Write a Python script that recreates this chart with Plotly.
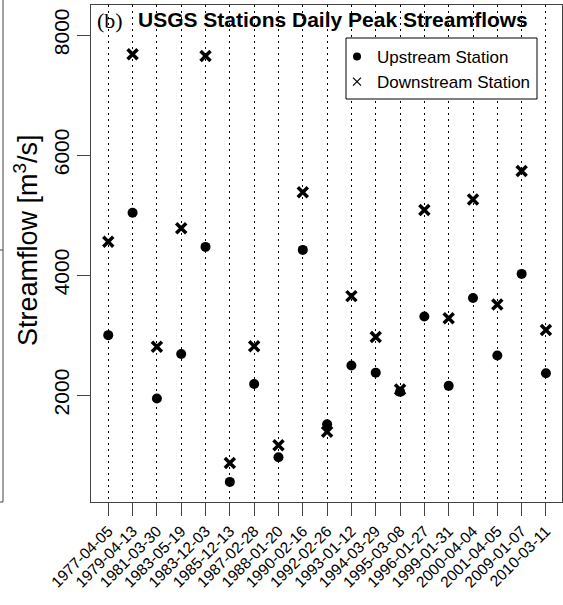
import plotly.graph_objects as go

dates = ["1977-04-05", "1979-04-13", "1981-03-30", "1983-05-19", "1983-12-03",
         "1985-12-13", "1987-02-28", "1988-01-20", "1990-02-16", "1992-02-26",
         "1993-01-12", "1994-03-29", "1995-03-08", "1996-01-27", "1999-01-31",
         "2000-04-04", "2001-04-05", "2009-01-07", "2010-03-11"]
upstream = [3000, 5040, 1945, 2685, 4470, 555, 2185, 965, 4420, 1515,
            2495, 2375, 2055, 3310, 2155, 3620, 2660, 4020, 2365]
downstream = [4555, 7680, 2805, 4780, 7650, 870, 2815, 1165, 5380, 1390,
              3650, 2970, 2095, 5085, 3280, 5260, 3510, 5735, 3085]
ytick_vals = [2000, 4000, 6000, 8000]

FONT = "Liberation Sans, Arial, sans-serif"
AX = "#444444"

fig = go.Figure()
fig.add_trace(go.Scatter(x=dates, y=upstream, mode="markers", showlegend=False,
                         marker=dict(symbol="circle", size=10, color="black")))
fig.add_trace(go.Scatter(x=dates, y=downstream, mode="markers", showlegend=False,
                         marker=dict(symbol="x-thin", size=10, color="black",
                                     line=dict(width=3.5, color="black"))))
# legend entries
fig.add_trace(go.Scatter(x=[None], y=[None], mode="markers", name="Upstream Station",
                         marker=dict(symbol="circle", size=8, color="black")))
fig.add_trace(go.Scatter(x=[None], y=[None], mode="markers", name="Downstream Station",
                         marker=dict(symbol="x-thin", size=8, color="black",
                                     line=dict(width=1.2, color="black"))))

W, H = 563, 605
L, R, T, B = 91, 1, 5, 103
pw, ph = W - L - R, H - T - B

def px_x(p):
    return (p - L) / pw

def px_y(p):
    return (H - B - p) / ph

fig.update_layout(
    width=W, height=H,
    margin=dict(l=L, r=R, t=T, b=B, autoexpand=False),
    plot_bgcolor="white", paper_bgcolor="white",
    font=dict(family=FONT, color="black"),
    showlegend=True,
    legend=dict(x=px_x(337), y=px_y(39), xanchor="left", yanchor="top",
                borderwidth=0, bgcolor="rgba(0,0,0,0)",
                font=dict(size=17, family=FONT), tracegroupgap=0,
                itemsizing="trace"),
    xaxis=dict(type="category", range=[-0.71, 18.66], automargin=False,
               showgrid=True, gridcolor="black", gridwidth=1, griddash="2px,4px",
               ticks="outside", ticklen=13, tickcolor=AX, tickwidth=1,
               tickangle=-45, tickfont=dict(size=15.5, family=FONT),
               showline=True, linecolor=AX, linewidth=1, mirror=True,
               zeroline=False),
    yaxis=dict(range=[220, 8500], tickvals=ytick_vals, automargin=False,
               ticktext=[str(v) for v in ytick_vals],
               showgrid=False, zeroline=False,
               ticks="outside", ticklen=13, tickcolor=AX, tickwidth=1,
               tickangle=-90, tickfont=dict(size=21, family=FONT),
               showline=True, linecolor=AX, linewidth=1, mirror=True),
)

# legend box
fig.add_shape(type="rect", xref="paper", yref="paper", layer="above",
              x0=px_x(346), x1=px_x(537), y0=px_y(99), y1=px_y(38),
              line=dict(color="black", width=1), fillcolor="white")

fig.add_annotation(text="(b)", xref="paper", yref="paper", x=px_x(95), y=px_y(21),
                   xanchor="left", yanchor="middle", showarrow=False,
                   font=dict(size=22, family="Liberation Serif, Times New Roman, serif"))
fig.add_annotation(text="<b>USGS Stations Daily Peak Streamflows</b>", xref="paper", yref="paper",
                   x=px_x(333), y=px_y(20), xanchor="center", yanchor="middle",
                   showarrow=False, font=dict(size=21, family=FONT))
fig.add_annotation(text="Streamflow [m<sup>3</sup>/s]", xref="paper", yref="paper",
                   x=px_x(26), y=px_y(240), xanchor="center", yanchor="middle",
                   textangle=-90, showarrow=False, font=dict(size=27, family=FONT))

# remnant of neighbouring panel border at the left edge
fig.add_shape(type="line", xref="paper", yref="paper", x0=px_x(3), x1=px_x(3),
              y0=px_y(0), y1=px_y(502), line=dict(color=AX, width=1))
fig.add_shape(type="line", xref="paper", yref="paper", x0=px_x(-1), x1=px_x(3),
              y0=px_y(502), y1=px_y(502), line=dict(color=AX, width=1))
fig.add_shape(type="line", xref="paper", yref="paper", x0=px_x(-1), x1=px_x(3),
              y0=px_y(250), y1=px_y(250), line=dict(color=AX, width=1))

fig.write_html("out.html", config={"displayModeBar": False},
               post_script="document.body.style.margin='0';document.body.style.overflow='hidden';")
